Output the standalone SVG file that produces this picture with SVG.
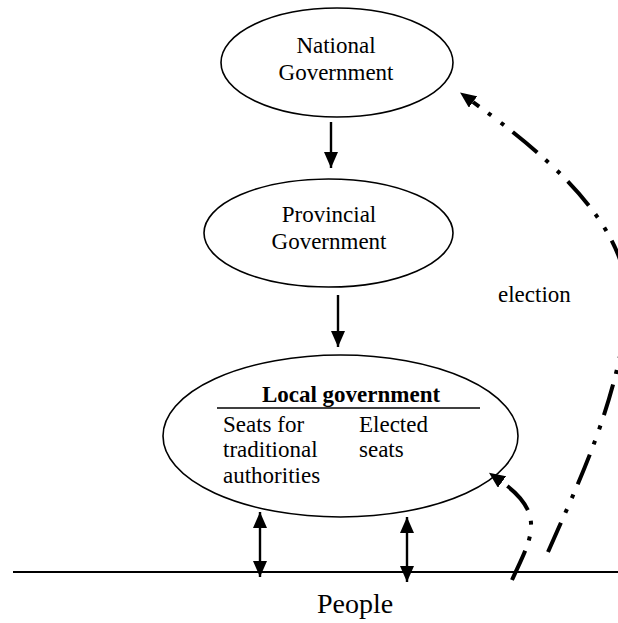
<svg xmlns="http://www.w3.org/2000/svg" width="618" height="623" viewBox="0 0 618 623" font-family="'Liberation Serif', 'Times New Roman', serif">
<style>
.node{fill:#fff;stroke:#000;stroke-width:1.6}
.t{font-family:'Liberation Serif','Times New Roman',serif;font-size:23px;fill:#000}
.c{text-anchor:middle}
.solid{stroke:#000;stroke-width:2.4;fill:none}
.dd{stroke:#000;stroke-width:4;fill:none;stroke-dasharray:32 11 4 12 4 11}
</style>
<defs>
<marker id="ah" viewBox="0 0 16 14" refX="16" refY="7" markerWidth="16" markerHeight="14" markerUnits="userSpaceOnUse" orient="auto-start-reverse">
<path d="M0,0 L16,7 L0,14 z" fill="#000"/>
</marker>
<marker id="dh" viewBox="0 0 16 14" refX="0" refY="7" markerWidth="16" markerHeight="14" markerUnits="userSpaceOnUse" orient="auto">
<path d="M0,0 L16,7 L0,14 z" fill="#000"/>
</marker>
</defs>
<g id="national">
<ellipse class="node" cx="337" cy="62.5" rx="116" ry="54.5"/>
<text class="t c" x="336" y="53">National</text>
<text class="t c" x="336" y="80">Government</text>
</g>
<g id="provincial">
<ellipse class="node" cx="328.5" cy="233" rx="124.5" ry="54"/>
<text class="t c" x="329" y="222">Provincial</text>
<text class="t c" x="329" y="249">Government</text>
</g>
<g id="local">
<ellipse class="node" cx="340.5" cy="436" rx="177.5" ry="81"/>
<text class="t c" x="351" y="402" font-weight="bold">Local government</text>
<line x1="217" y1="408" x2="480" y2="408" stroke="#000" stroke-width="1.6"/>
<text class="t" x="223" y="432">Seats for</text>
<text class="t" x="223" y="457">traditional</text>
<text class="t" x="223" y="483">authorities</text>
<text class="t" x="359" y="432">Elected</text>
<text class="t" x="359" y="457">seats</text>
</g>
<g id="people">
<line x1="13" y1="572" x2="618" y2="572" stroke="#000" stroke-width="2"/>
<text class="t c" x="355" y="613" style="font-size:28px">People</text>
</g>
<g id="label-election">
<text class="t" x="498" y="302">election</text>
</g>
<g id="connectors">
<line class="solid" x1="331" y1="122" x2="331" y2="168" marker-end="url(#ah)"/>
<line class="solid" x1="338" y1="295" x2="338" y2="347" marker-end="url(#ah)"/>
<line class="solid" x1="260" y1="512" x2="260" y2="577" marker-start="url(#ah)" marker-end="url(#ah)"/>
<line class="solid" x1="407" y1="517" x2="407" y2="582" marker-start="url(#ah)" marker-end="url(#ah)"/>
<path class="dd" d="M548,552 C575,490 610,420 625,330 C645,240 560,165 473,102" marker-end="url(#dh)"/>
<path class="dd" d="M512,580 C530,540 548,515 502,482" marker-end="url(#dh)"/>
</g>
</svg>
